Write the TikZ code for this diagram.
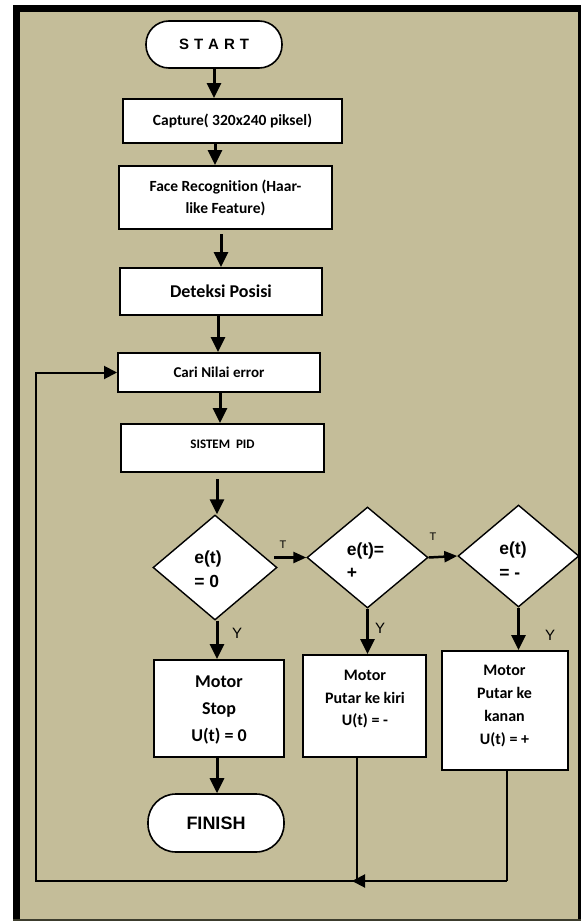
\documentclass[tikz,border=0pt]{standalone}
\usepackage{fontspec}
\setmainfont{Liberation Sans}
\newfontfamily\calf[Ligatures=NoCommon]{Carlito}
\usetikzlibrary{shapes.geometric,arrows.meta}
\definecolor{tanbg}{RGB}{196,189,153}
\definecolor{edgedark}{RGB}{60,60,45}
\begin{document}
\begin{tikzpicture}[x=1pt,y=-1pt,
  box/.style={draw=black,line width=2pt,fill=white,inner sep=2pt,align=center,font=\calf\bfseries},
  boxtext/.style={align=center,inner sep=0pt,font=\calf\bfseries},
  term/.style={draw=black,line width=1.6pt,fill=white,inner sep=0pt,font=\bfseries},
  dia/.style={draw=black,line width=1.4pt,fill=white,diamond,inner sep=0pt},
  dtext/.style={align=left,inner sep=0pt,font=\fontsize{17.5}{23.5}\selectfont\bfseries},
  arr/.style={line width=3pt,-{Triangle[length=15pt,width=14pt]}},
  harr/.style={line width=2.5pt,-{Triangle[length=13pt,width=11pt]}},
  loopline/.style={line width=2pt},
  looparr/.style={line width=2pt,-{Triangle[length=13pt,width=13pt]}},
  ylab/.style={inner sep=0pt,font=\fontsize{15}{15}\selectfont},
  tlab/.style={inner sep=0pt,font=\fontsize{11}{11}\selectfont}
]
% background and frame
\fill[white] (0,0) rectangle (581,921);
\fill[tanbg] (13,5) rectangle (581,921);
\fill[black] (13,5) rectangle (19.5,921);
\fill[black] (13,5) rectangle (581,12);
\fill[black] (577.5,5) rectangle (581,921);
\fill[edgedark] (13,919.3) rectangle (581,921);

% nodes
\node[term,rounded corners=23pt,minimum width=136pt,minimum height=47pt] (start) at (214,44.5)
  {\fontsize{15}{15}\selectfont S\,\,T\,\,A\,\,R\,\,T};
\node[box,minimum width=219pt,minimum height=44pt] (capture) at (232.5,121)
  {\fontsize{15.5}{18}\selectfont Capture( 320x240 piksel)};
\node[box,minimum width=213pt,minimum height=63pt,font=\calf\bfseries\fontsize{15.5}{22}\selectfont] (face) at (225.5,197.5)
  {Face Recognition (Haar-\\like Feature)};
\node[box,minimum width=202pt,minimum height=47pt] (deteksi) at (221,291.5)
  {\fontsize{18}{20}\selectfont Deteksi Posisi};
\node[box,minimum width=202pt,minimum height=39pt] (cari) at (219,372.5)
  {\fontsize{15}{18}\selectfont Cari Nilai error};
\node[box,minimum width=203pt,minimum height=48pt] (sistem) at (222.5,448) {};
\node[boxtext,font=\calf\bfseries\fontsize{13}{15}\selectfont] (sistemt) at (222.5,444) {SISTEM\ \ PID};

\node[dia,minimum width=124pt,minimum height=105pt] (d1) at (215,567.5) {};
\node[dtext] (d1t) at (208,569) {e(t)\\= 0};
\node[dia,minimum width=121pt,minimum height=101pt] (d2) at (367.5,557.5) {};
\node[dtext] (d2t) at (365.5,560.5) {e(t)=\\+};
\node[dia,minimum width=121pt,minimum height=102pt] (d3) at (518.5,556) {};
\node[dtext] (d3t) at (513,560) {e(t)\\= -};

\node[box,minimum width=130pt,minimum height=97pt] (stop) at (219,708.5) {};
\node[boxtext,font=\calf\bfseries\fontsize{18}{27}\selectfont] (stopt) at (219,710) {Motor\\Stop\\U(t) = 0};
\node[box,minimum width=123pt,minimum height=102pt] (b2) at (364.5,706) {};
\node[boxtext,font=\calf\bfseries\fontsize{16}{22.5}\selectfont] (b2t) at (365,699.5) {Motor\\Putar ke kiri\\U(t) = -};
\node[box,minimum width=126pt,minimum height=119pt] (b3) at (505,710.5) {};
\node[boxtext,font=\calf\bfseries\fontsize{16}{22.7}\selectfont] (b3t) at (504.5,706) {Motor\\Putar ke\\kanan\\U(t) = +};

\node[term,rounded corners=28pt,minimum width=136pt,minimum height=58pt] (finish) at (216,823)
  {\fontsize{18}{18}\selectfont FINISH};

% labels
\node[tlab] (t1) at (283,545) {T};
\node[tlab] (t2) at (433,537) {T};
\node[ylab] (y1) at (237,633) {Y};
\node[ylab] (y2) at (380,628) {Y};
\node[ylab] (y3) at (550,635) {Y};

% x guides
\coordinate (c2) at (215,0);
\coordinate (c3) at (221,0);
\coordinate (c4) at (218,0);
\coordinate (c5) at (220,0);
\coordinate (c6) at (217,0);

% main connectors
\draw[arr] (start.south) -- (start.south |- capture.north);
\draw[arr] (capture.south -| c2) -- (face.north -| c2);
\draw[arr] ([yshift=-4pt]face.south -| c3) -- (deteksi.north -| c3);
\draw[arr] (deteksi.south -| c4) -- (cari.north -| c4);
\draw[arr] (cari.south -| c5) -- (sistem.north -| c5);
\draw[arr] ([yshift=-6pt]sistem.south -| c6) -- (d1.north -| c6);
\draw[harr] ([xshift=-32pt]d2.west) -- (d2.west);
\draw[harr] (d2.east) -- (d3.west);
\draw[arr] (d1.south -| c6) -- (stop.north -| c6);
\draw[arr] (d2.south) -- (d2.south |- b2.north);
\draw[arr] (d3.south) -- (d3.south |- b3.north);
\draw[arr] (stop.south -| c6) -- (finish.north -| c6);

% feedback loop
\coordinate (j3) at (507,881);
\coordinate (j2) at (357,881);
\coordinate (jl) at (36,881);
\draw[loopline] (b3.south -| j3) -- (j3);
\draw[loopline] (b2.south -| j2) -- (j2);
\draw[looparr] (j3) -- ([xshift=-5pt]j2);
\draw[looparr] (j2) -- (jl) -- (jl |- cari.west) -- (cari.west);
\end{tikzpicture}
\end{document}
